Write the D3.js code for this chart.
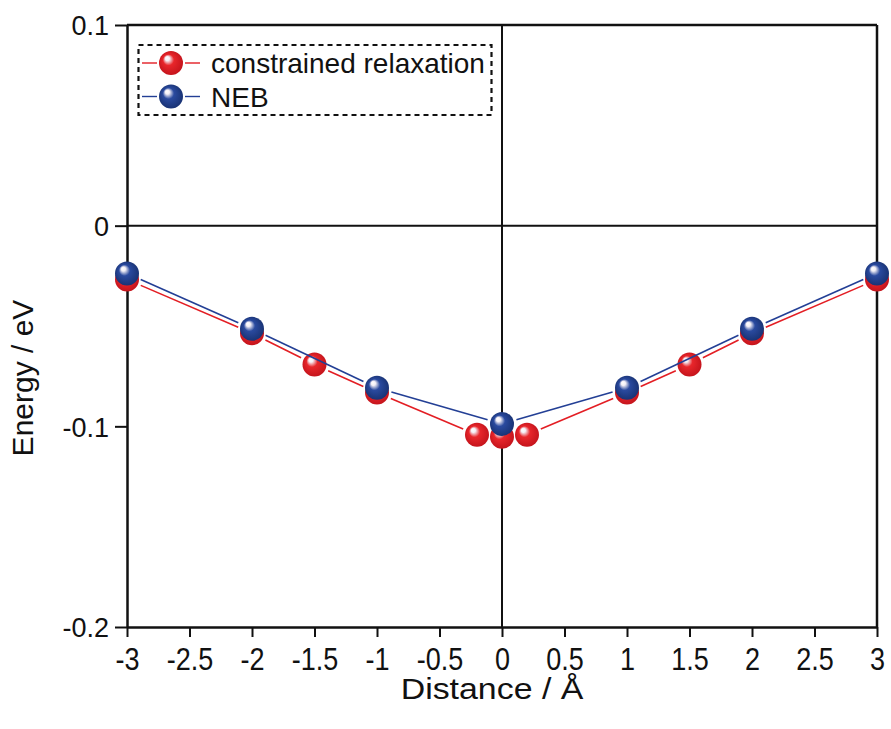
<!DOCTYPE html>
<html><head><meta charset="utf-8">
<script src="https://cdn.jsdelivr.net/npm/d3@7"></script>
<style>body{margin:0;background:#fff}svg{display:block}text{font-family:"Liberation Sans",Arial,sans-serif}</style>
</head><body>
<svg id="c" width="891" height="729"></svg>
<script>
const redX = [-3, -2, -1.5, -1, -0.2, 0, 0.2, 1, 1.5, 2, 3];
const redY = [-0.0268, -0.0536, -0.0692, -0.0832, -0.1042, -0.1052, -0.1042, -0.0832, -0.0692, -0.0536, -0.0268];
const blueX = [-3, -2, -1, 0, 1, 2, 3];
const blueY = [-0.0238, -0.0514, -0.0808, -0.0988, -0.0808, -0.0514, -0.0238];
const xTicks = [-3, -2.5, -2, -1.5, -1, -0.5, 0, 0.5, 1, 1.5, 2, 2.5, 3];
const yTicks = [0.1, 0, -0.1, -0.2];
const seriesNames = ["constrained relaxation", "NEB"];
const seriesColors = ["#e31e24", "#233f95"];

const svg = d3.select("#c");
const L = 127, R = 877, T = 25, B = 627;
const x = d3.scaleLinear().domain([-3, 3]).range([L, R]);
const y = d3.scaleLinear().domain([-0.2, 0.1]).range([B, T]);

// gradients
const defs = svg.append("defs");
function grad(id, base, dark) {
  const g = defs.append("radialGradient").attr("id", id)
    .attr("cx", "50%").attr("cy", "50%").attr("r", "55%").attr("fx", "32%").attr("fy", "28%");
  g.append("stop").attr("offset", "0%").attr("stop-color", "#ffffff");
  g.append("stop").attr("offset", "16%").attr("stop-color", "#f4f0f6");
  g.append("stop").attr("offset", "42%").attr("stop-color", base);
  g.append("stop").attr("offset", "100%").attr("stop-color", dark);
}
grad("gr", "#e8262b", "#c1121a");
grad("gb", "#2a4a9f", "#17306f");

// axes
const xAxis = d3.axisBottom(x).tickValues(xTicks).tickSize(10).tickSizeOuter(0)
  .tickFormat(d => String(d));
const yAxis = d3.axisLeft(y).tickValues(yTicks).tickSize(12).tickSizeOuter(0)
  .tickFormat(d => String(d));
const gx = svg.append("g").attr("transform", `translate(0,${B})`).call(xAxis);
const gy = svg.append("g").attr("transform", `translate(${L},0)`).call(yAxis);
[gx, gy].forEach(g => {
  g.select(".domain").attr("stroke", "#111").attr("stroke-width", 2.5);
  g.selectAll(".tick line").attr("stroke", "#111").attr("stroke-width", 2);
  g.selectAll(".tick text").attr("fill", "#111").style("font-size", "27px")
    .style("font-family", '"Liberation Sans",Arial,sans-serif');
});
gx.selectAll(".tick text").attr("dy", null).attr("y", 0)
  .attr("transform", "translate(0,43) scale(1,1.16)");
gy.selectAll(".tick text").attr("x", -18).attr("dy", "0.36em");

// frame top/right
svg.append("line").attr("x1", L).attr("x2", R).attr("y1", T).attr("y2", T)
  .attr("stroke", "#111").attr("stroke-width", 2.5);
svg.append("line").attr("x1", R).attr("x2", R).attr("y1", T).attr("y2", B)
  .attr("stroke", "#111").attr("stroke-width", 2.5);
// zero lines
svg.append("line").attr("x1", L).attr("x2", R).attr("y1", y(0)).attr("y2", y(0))
  .attr("stroke", "#111").attr("stroke-width", 2);
svg.append("line").attr("x1", x(0)).attr("x2", x(0)).attr("y1", T).attr("y2", B)
  .attr("stroke", "#111").attr("stroke-width", 2);

// titles
svg.append("text").attr("transform", "translate(492,699) scale(1.13,1)").attr("text-anchor", "middle")
  .style("font-size", "30px").attr("fill", "#111").text("Distance / Å");
svg.append("text").attr("transform", "translate(33,378) rotate(-90)").attr("text-anchor", "middle")
  .style("font-size", "30px").attr("fill", "#111").text("Energy / eV");

const rM = 12, gap = 3;
function drawSeries(xs, ys, color, gid) {
  const pts = xs.map((v, i) => [x(v), y(ys[i])]);
  const g = svg.append("g");
  for (let i = 0; i < pts.length - 1; i++) {
    const [x1, y1] = pts[i], [x2, y2] = pts[i + 1];
    const dx = x2 - x1, dy = y2 - y1, len = Math.hypot(dx, dy);
    const s = rM + gap;
    if (len <= 2 * s) continue;
    g.append("line")
      .attr("x1", x1 + dx / len * s).attr("y1", y1 + dy / len * s)
      .attr("x2", x2 - dx / len * s).attr("y2", y2 - dy / len * s)
      .attr("stroke", color).attr("stroke-width", 1.6);
  }
  g.selectAll("circle").data(pts).join("circle")
    .attr("cx", d => d[0]).attr("cy", d => d[1]).attr("r", rM)
    .attr("fill", `url(#${gid})`);
}
drawSeries(redX, redY, seriesColors[0], "gr");
drawSeries(blueX, blueY, seriesColors[1], "gb");

// legend
const lg = svg.append("g");
lg.append("rect").attr("x", 138.5).attr("y", 45).attr("width", 353).attr("height", 70)
  .attr("fill", "none").attr("stroke", "#111").attr("stroke-width", 2.2).attr("stroke-dasharray", "5,4");
const gids = ["gr", "gb"];
seriesNames.forEach((name, i) => {
  const cy = 63 + i * 33.5;
  lg.append("line").attr("x1", 142).attr("x2", 157).attr("y1", cy).attr("y2", cy)
    .attr("stroke", seriesColors[i]).attr("stroke-width", 1.4);
  lg.append("line").attr("x1", 185).attr("x2", 200).attr("y1", cy).attr("y2", cy)
    .attr("stroke", seriesColors[i]).attr("stroke-width", 1.4);
  lg.append("circle").attr("cx", 171).attr("cy", cy).attr("r", rM).attr("fill", `url(#${gids[i]})`);
  lg.append("text").attr("x", 211).attr("y", cy).attr("dy", "0.36em")
    .style("font-size", "28px").attr("fill", "#111").text(name);
});
</script>
</body></html>
